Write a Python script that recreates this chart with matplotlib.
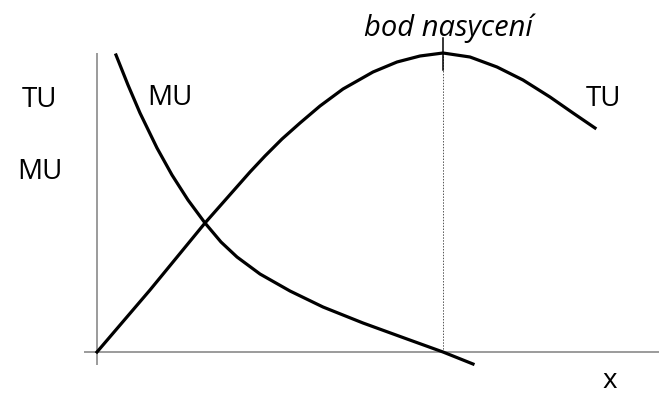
import matplotlib
matplotlib.use("Agg")
import matplotlib.pyplot as plt

# Total utility curve (x, TU)
tu_x = [0, 53, 108, 138, 153, 168, 185, 203, 223, 246, 276, 300, 323, 346,
        373, 400, 426, 453, 476, 498]
tu_y = [0, 62, 129, 163, 180, 196, 213, 229, 246, 263, 280, 290, 296, 299,
        295, 285, 272, 255, 239, 224]

# Marginal utility curve (x, MU)
mu_x = [19, 31, 43, 60, 75, 91, 108, 124, 140, 163, 193, 226, 266, 310, 346, 376]
mu_y = [297, 267, 239, 204, 177, 152, 129, 110, 95, 78, 61, 45, 29, 13, 0, -12]

sat_x = 346          # bod nasycení
axis_top = 299
axis_bottom = -13
axis_left = -13
axis_right = 562

fig = plt.figure(figsize=(6.59, 3.94), dpi=100)
ax = fig.add_axes([0, 0, 1, 1])
ax.set_xlim(-97, 562)
ax.set_ylim(-42, 352)
ax.axis("off")

# axes lines
ax.plot([0, 0], [axis_bottom, axis_top], color="#808080", lw=1.1, solid_capstyle="butt")
ax.plot([axis_left, axis_right], [0, 0], color="#808080", lw=1.1, solid_capstyle="butt")

# saturation dotted line and tick
ax.plot([sat_x, sat_x], [0, axis_top], color="#555555", lw=0.7, ls=(0, (1.5, 1.5)))
ax.plot([sat_x, sat_x], [282, 314], color="black", lw=1.1)

# curves
ax.plot(tu_x, tu_y, color="black", lw=2.3, solid_joinstyle="round")
ax.plot(mu_x, mu_y, color="black", lw=2.3, solid_joinstyle="round")

fs = 20
font = "Open Sans"
ax.text(-57, 252, "TU", fontsize=fs, family=font, ha="center", va="center")
ax.text(-57, 180, "MU", fontsize=fs, family=font, ha="center", va="center")
ax.text(73, 254, "MU", fontsize=fs, family=font, ha="center", va="center")
ax.text(506, 253, "TU", fontsize=fs, family=font, ha="center", va="center")
ax.text(351, 324, "bod nasycení", fontsize=21, family=font, style="italic",
        ha="center", va="center")
ax.text(513, -36, "x", fontsize=fs, family=font, ha="center", va="baseline")

fig.savefig("out.png", dpi=100)
